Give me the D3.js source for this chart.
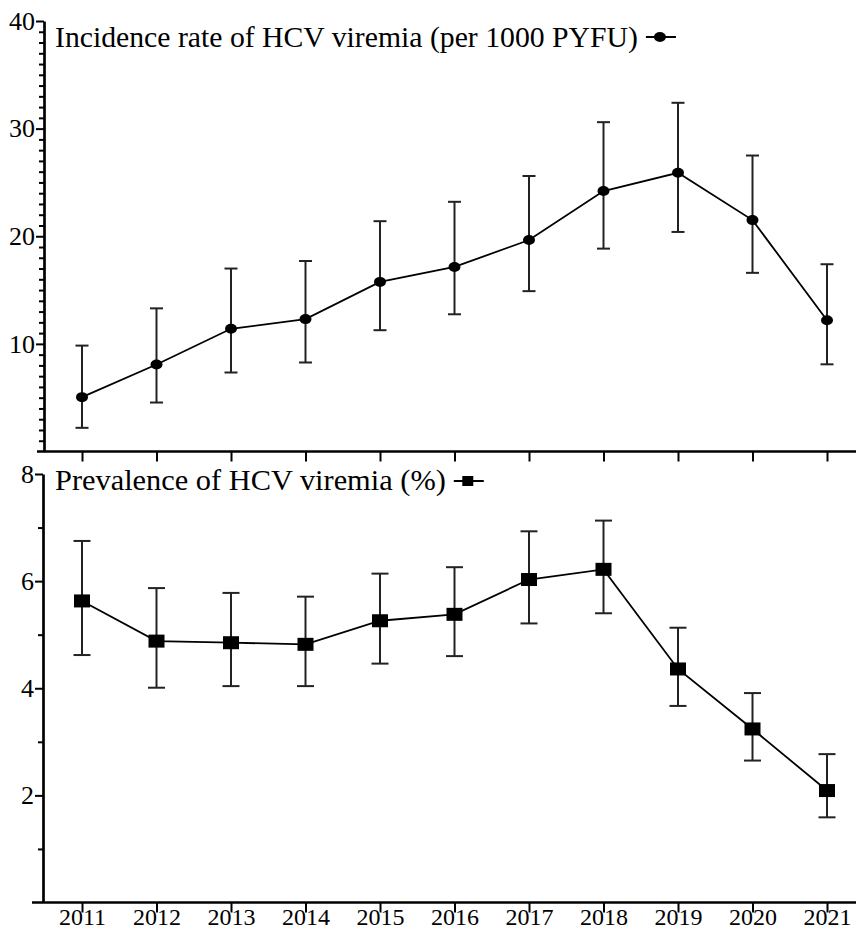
<!DOCTYPE html>
<html>
<head>
<meta charset="utf-8">
<script src="https://cdn.jsdelivr.net/npm/d3@7"></script>
<style>
  html, body { margin: 0; padding: 0; background: #fff; }
  svg { display: block; }
</style>
</head>
<body>
<svg id="chart" width="856" height="930"></svg>
<script>
// ---------- data ----------
const years = [2011, 2012, 2013, 2014, 2015, 2016, 2017, 2018, 2019, 2020, 2021];

const incidence      = [5.05, 8.08, 11.4, 12.3, 15.76, 17.15, 19.65, 24.2, 25.9, 21.5, 12.2];
const incidenceLower = [2.2, 4.55, 7.34, 8.27, 11.27, 12.75, 14.9, 18.85, 20.4, 16.6, 8.1];
const incidenceUpper = [9.84, 13.3, 17.0, 17.7, 21.4, 23.2, 25.6, 30.6, 32.4, 27.5, 17.4];

const prevalence      = [5.63, 4.88, 4.85, 4.82, 5.26, 5.38, 6.03, 6.22, 4.36, 3.24, 2.09];
const prevalenceLower = [4.62, 4.01, 4.04, 4.04, 4.46, 4.60, 5.21, 5.40, 3.67, 2.65, 1.59];
const prevalenceUpper = [6.75, 5.87, 5.78, 5.71, 6.14, 6.26, 6.93, 7.13, 5.13, 3.91, 2.77];

const topMajorTicks = [10, 20, 30, 40];
const topMinorTicks = d3.range(1, 40).filter(v => v % 10 !== 0);
const botMajorTicks = [2, 4, 6, 8];
const botMinorTicks = [1, 3, 5, 7];

const topLegend = "Incidence rate of HCV viremia (per 1000 PYFU)";
const botLegend = "Prevalence of HCV viremia (%)";

// ---------- pick an installed serif font ----------
function pickFont(cands) {
  const c = document.createElement("canvas").getContext("2d");
  const sample = "Incidence rate 2011 HCV viremia";
  c.font = "40px monospace"; const wm = c.measureText(sample).width;
  c.font = "40px sans-serif"; const ws = c.measureText(sample).width;
  for (const f of cands) {
    c.font = `40px "${f}", monospace`; const a = c.measureText(sample).width;
    c.font = `40px "${f}", sans-serif`; const b = c.measureText(sample).width;
    if (a !== wm || b !== ws) return `"${f}"`;
  }
  return "serif";
}
const SERIF = pickFont(["Liberation Serif", "Tinos", "Times New Roman", "Times", "Noto Serif", "DejaVu Serif"]) + ", serif";

// ---------- layout ----------
const svg = d3.select("#chart");
const x = d3.scalePoint().domain(years).range([82, 827]);

const panels = [
  {
    y: d3.scaleLinear().domain([0, 40]).range([451.5, 21]),
    axisX: 44, axisLeftStart: 37,
    vals: incidence, lo: incidenceLower, hi: incidenceUpper,
    major: topMajorTicks, minor: topMinorTicks,
    marker: "circle", capHalf: 6.5,
    legend: topLegend, legendWidth: 583, legendBaseline: 47, legendSymbolDy: -10,
    labels: false
  },
  {
    y: d3.scaleLinear().domain([0, 8]).range([902.5, 474]),
    axisX: 43, axisLeftStart: 32,
    vals: prevalence, lo: prevalenceLower, hi: prevalenceUpper,
    major: botMajorTicks, minor: botMinorTicks,
    marker: "square", capHalf: 8.5,
    legend: botLegend, legendWidth: 391, legendBaseline: 490, legendSymbolDy: -9,
    labels: true
  }
];

panels.forEach(p => {
  const g = svg.append("g");
  const y = p.y;
  const y0 = y(0);

  // y axis (major with labels)
  const yAxis = d3.axisLeft(y).tickValues(p.major).tickSize(8).tickPadding(1).tickSizeOuter(0);
  const ya = g.append("g").attr("transform", `translate(${p.axisX},0)`).call(yAxis);
  ya.attr("font-family", null);
  ya.select(".domain").attr("stroke", "#000").attr("stroke-width", 2.7);
  ya.selectAll(".tick line").attr("stroke", "#000").attr("stroke-width", 2);
  ya.selectAll(".tick text").style("font-family", SERIF).style("font-size", "26px").attr("fill", "#000");

  // minor ticks
  const yMinor = d3.axisLeft(y).tickValues(p.minor).tickSize(5).tickFormat("").tickSizeOuter(0);
  const ym = g.append("g").attr("transform", `translate(${p.axisX},0)`).call(yMinor);
  ym.select(".domain").remove();
  ym.selectAll(".tick line").attr("stroke", "#000").attr("stroke-width", 2);

  // x axis
  const xAxis = d3.axisBottom(x).tickSize(10).tickPadding(0).tickSizeOuter(0)
    .tickFormat(p.labels ? d3.format("d") : "");
  const xa = g.append("g").attr("transform", `translate(0,${y0})`).call(xAxis);
  xa.select(".domain").remove();
  xa.selectAll(".tick line").attr("stroke", "#000").attr("stroke-width", 2);
  xa.selectAll(".tick text")
    .style("font-family", SERIF).style("font-size", "24px").attr("fill", "#000")
    .attr("y", 22).attr("dy", null);
  g.append("line")
    .attr("x1", p.axisLeftStart).attr("x2", 856)
    .attr("y1", y0).attr("y2", y0)
    .attr("stroke", "#000").attr("stroke-width", 2.7);

  // error bars
  const eb = g.append("g").attr("stroke", "#222").attr("stroke-width", 2);
  years.forEach((yr, i) => {
    const cx = x(yr);
    eb.append("line").attr("x1", cx).attr("x2", cx).attr("y1", y(p.lo[i])).attr("y2", y(p.hi[i]));
    eb.append("line").attr("x1", cx - p.capHalf).attr("x2", cx + p.capHalf).attr("y1", y(p.hi[i])).attr("y2", y(p.hi[i]));
    eb.append("line").attr("x1", cx - p.capHalf).attr("x2", cx + p.capHalf).attr("y1", y(p.lo[i])).attr("y2", y(p.lo[i]));
  });

  // connecting line
  const line = d3.line().x((d, i) => x(years[i])).y(d => y(d));
  g.append("path").datum(p.vals).attr("d", line)
    .attr("fill", "none").attr("stroke", "#000").attr("stroke-width", 1.8);

  // markers
  const drawMarker = (sel, cx, cy, big) => {
    if (p.marker === "circle") {
      sel.append("ellipse").attr("cx", cx).attr("cy", cy)
        .attr("rx", 6).attr("ry", 5).attr("fill", "#000");
    } else {
      const w = big ? 16 : 11, h = big ? 13 : 10;
      sel.append("rect").attr("x", cx - w / 2).attr("y", cy - h / 2)
        .attr("width", w).attr("height", h).attr("fill", "#000");
    }
  };
  const mk = g.append("g");
  years.forEach((yr, i) => drawMarker(mk, x(yr), y(p.vals[i]), true));

  // legend
  const t = g.append("text")
    .attr("x", 55).attr("y", p.legendBaseline)
    .style("font-family", SERIF)
    .style("font-size", "28px")
    .attr("fill", "#000")
    .text(p.legend);
  const w0 = t.node().getComputedTextLength();
  const fs = 28 * p.legendWidth / w0;
  t.style("font-size", fs + "px");
  const w1 = t.node().getComputedTextLength();
  const sx = 55 + w1 + 8;
  const sy = p.legendBaseline + p.legendSymbolDy;
  g.append("line").attr("x1", sx).attr("x2", sx + 30).attr("y1", sy).attr("y2", sy)
    .attr("stroke", "#000").attr("stroke-width", 2);
  drawMarker(g, sx + 14, sy, false);
});
</script>
</body>
</html>
